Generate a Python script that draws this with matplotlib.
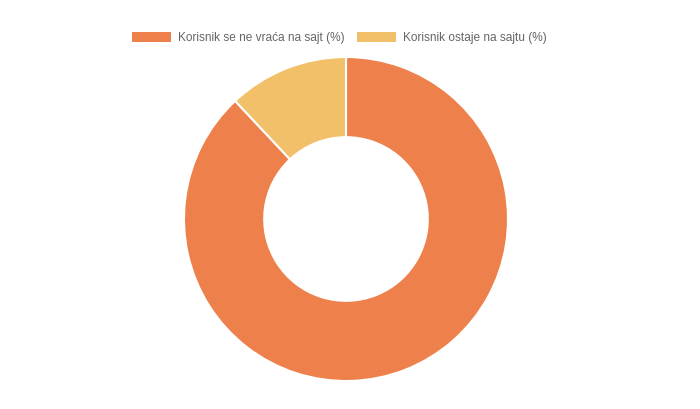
import matplotlib
matplotlib.use("Agg")
import matplotlib.pyplot as plt
from matplotlib.patches import Rectangle

labels = ["Korisnik se ne vraća na sajt (%)", "Korisnik ostaje na sajtu (%)"]
values = [88, 12]
colors = ["#EE804B", "#F2C069"]

plt.rcParams['font.family'] = ['Liberation Sans', 'DejaVu Sans']

W, H = 700, 410
fig = plt.figure(figsize=(W / 100, H / 100), dpi=100)
fig.patch.set_facecolor("white")

cx, cy, r = 346, 220, 162
ax = fig.add_axes([(cx - r) / W, (H - cy - r) / H, 2 * r / W, 2 * r / H])
ax.pie(values, colors=colors, startangle=90, counterclock=False, radius=1,
       wedgeprops=dict(width=0.495, edgecolor="white", linewidth=1.5))
ax.set_xlim(-1, 1)
ax.set_ylim(-1, 1)
ax.set_aspect("equal")
ax.axis("off")

# legend
box_x = [132, 357]
text_x = [178, 403]
for bx, tx, lab, col in zip(box_x, text_x, labels, colors):
    fig.patches.append(Rectangle((bx / W, (H - 43) / H), 39 / W, 10 / H,
                                 transform=fig.transFigure, facecolor=col,
                                 edgecolor="none"))
    fig.text(tx / W, (H - 38) / H, lab, fontsize=8.6, color="#666666",
             va="center", ha="left")

fig.savefig("out.png", dpi=100)
